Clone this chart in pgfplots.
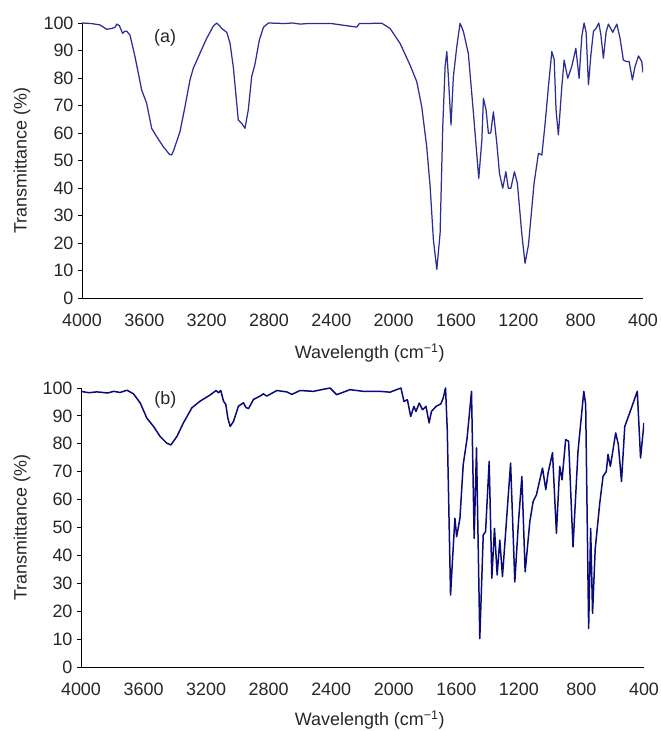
\documentclass[border=0pt]{standalone}
\usepackage{pgfplots}
\pgfplotsset{compat=1.18}
\usepackage{fontspec}
\setmainfont{Liberation Sans}
\definecolor{lineA}{RGB}{45,45,150}
\definecolor{lineB}{RGB}{10,10,120}
\pgfplotsset{
  irstyle/.style={
    scale only axis,
    x dir=reverse,
    xmin=400, xmax=4000,
    ymin=0, ymax=100,
    axis x line=bottom, axis y line=left,
    axis line style={-, black, line width=0.8bp},
    xtick={4000,3600,3200,2800,2400,2000,1600,1200,800,400},
    ytick={0,10,...,100},
    major x tick style={draw=none},
    tick align=outside,
    major tick length=4bp,
    major y tick style={black, line width=0.8bp},
    /pgf/number format/.cd, 1000 sep={}, assume math mode=true,
    /pgfplots/.cd,
    tick label style={font=\fontsize{18}{20}\selectfont, text=black!85},
    xticklabel style={yshift=-8bp},
    yticklabel style={xshift=-1bp},
    label style={font=\fontsize{18}{20}\selectfont, text=black!85},
  }
}
\begin{document}
\begin{tikzpicture}[x=1bp,y=1bp]
\useasboundingbox (0,0) rectangle (661,731);
% ---------- (a)
\begin{axis}[irstyle,
  at={(82bp,433bp)}, anchor=south west,
  width=561bp, height=275bp,
  xlabel={Wavelength (cm\textsuperscript{\char"2212 1})},
  ylabel={Transmittance (\%)},
  xlabel style={at={(axis description cs:0.513,-0.2)}, anchor=center},
  ylabel style={at={(axis description cs:-0.107,0.5)}, anchor=center},
]
\addplot[lineA, line width=1.25bp, no marks, line join=round] coordinates {
(4000,100)(3940,99.8)(3885,99.3)(3841,97.7)(3810,98)(3788,98.4)(3777,99.6)(3760,99)(3739,96.2)(3725,97)(3713,97)(3692,95.6)(3660,87.8)(3617,75.6)(3585,70.8)(3553,61.7)(3521,58.7)(3478,55)(3440,52.3)(3425,52)(3414,53.3)(3371,60.5)(3339,69.6)(3307,79.3)(3286,83.5)(3243,89)(3200,94.4)(3157,98.9)(3135,100)(3118,99)(3103,98)(3071,96.6)(3050,92.6)(3029,84)(2997,64.7)(2975,63.5)(2954,61.7)(2933,68.4)(2911,80.5)(2890,85)(2862,93.8)(2836,98.4)(2804,100)(2700,99.8)(2650,100)(2600,99.6)(2550,99.8)(2400,99.8)(2237,98.5)(2220,99.8)(2076,99.9)(2023,98)(1959,92.6)(1895,84.7)(1852,78.7)(1820,69.6)(1788,55)(1766,40.5)(1745,21.1)(1723,10.4)(1702,23.5)(1685,62.3)(1670,84)(1659,89.6)(1649,80.5)(1632,62.9)(1617,80.4)(1595,91.4)(1574,99.9)(1553,97)(1521,89)(1488,67.2)(1454,43.5)(1434,57.5)(1424,72.6)(1407,68.4)(1392,59.9)(1377,60)(1360,67.7)(1338,56.2)(1321,45.3)(1300,39.9)(1280,45.9)(1264,39.9)(1248,39.9)(1225,45.9)(1206,41.7)(1178,23.5)(1157,12.6)(1135,19.3)(1099,41.7)(1071,52.6)(1049,52)(1028,63.5)(1007,76.8)(985,89.6)(970,86.7)(958,68.4)(943,59.3)(921,76.8)(906,86.5)(883,79.9)(857,84.2)(831,90.8)(810,79.9)(793,95)(778,100)(765,96.6)(750,77.5)(735,88)(718,97)(701,98)(684,100)(671,96)(654,87.2)(637,96.6)(622,99.6)(594,96.6)(568,99.6)(547,94.4)(526,86.5)(508,86)(489,86)(468,79.3)(451,84.2)(429,88)(408,86)(400,82)
};
\node[font=\fontsize{18}{20}\selectfont, text=black!85] at (axis cs:3467,94.5) {(a)};
\end{axis}
% ---------- (b)
\begin{axis}[irstyle,
  at={(81bp,64bp)}, anchor=south west,
  width=563bp, height=279bp,
  xlabel={Wavelength (cm\textsuperscript{\char"2212 1})},
  ylabel={Transmittance (\%)},
  xlabel style={at={(axis description cs:0.513,-0.19)}, anchor=center},
  ylabel style={at={(axis description cs:-0.105,0.5)}, anchor=center},
]
\addplot[lineB, line width=1.5bp, no marks, line join=round] coordinates {
(4000,98.8)(3950,98.3)(3900,98.6)(3877,98.5)(3830,98.2)(3791,98.8)(3750,98.4)(3706,99.2)(3664,97.9)(3621,94.6)(3579,89.2)(3536,86.2)(3494,82.6)(3451,80.2)(3425,79.6)(3387,82.6)(3345,87.5)(3291,92.9)(3238,95.3)(3174,97.5)(3136,99.1)(3121,98.3)(3106,99.1)(3089,95.3)(3074,94.1)(3061,89.2)(3046,86.2)(3025,88)(2993,93.5)(2961,94.7)(2945,93)(2929,92.6)(2897,95.9)(2855,97.1)(2834,97.9)(2812,97.1)(2748,99.1)(2684,98.6)(2652,97.7)(2599,99.1)(2514,98.8)(2408,100)(2365,97.6)(2280,99.4)(2195,98.8)(2088,98.8)(2024,98.5)(1954,100)(1935,95.2)(1913,95.8)(1892,89.8)(1871,93.4)(1858,91.6)(1837,94.6)(1816,92.2)(1794,93.4)(1774,87.5)(1759,91.6)(1730,93.4)(1699,94.3)(1684,96.4)(1669,100)(1658,85)(1637,25.8)(1624,38.9)(1609,53.3)(1598,46.7)(1577,53.3)(1556,72.5)(1531,82.1)(1503,98.8)(1486,46.1)(1471,78.5)(1450,10.2)(1428,47.3)(1413,48.5)(1390,73.7)(1373,31.8)(1356,49.7)(1339,33)(1322,45.5)(1305,32.4)(1253,73.1)(1226,30.5)(1204,50.9)(1181,68.3)(1160,34.1)(1130,52.1)(1109,59.3)(1088,61.7)(1049,71.3)(1028,63.6)(1013,69.6)(985,76.8)(960,47.9)(939,71.9)(924,67.1)(901,81.5)(882,80.9)(854,43.1)(822,77.3)(785,98.8)(773,94.1)(754,13.8)(741,49.7)(729,19.2)(712,42.3)(683,58.7)(662,68.3)(641,70.1)(630,76.2)(615,71.9)(581,83.9)(564,79.7)(544,66.5)(523,86.2)(492,91)(443,98.8)(422,74.9)(400,87.5)
};
\node[font=\fontsize{18}{20}\selectfont, text=black!85] at (axis cs:3461,95.8) {(b)};
\end{axis}
\end{tikzpicture}
\end{document}
